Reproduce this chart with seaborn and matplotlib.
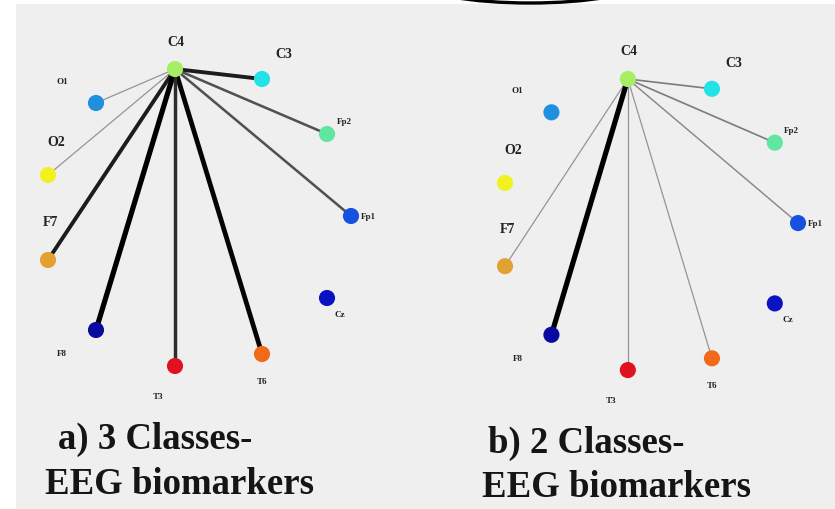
import matplotlib
matplotlib.use("Agg")
import matplotlib.pyplot as plt
import seaborn as sns
import pandas as pd
from matplotlib.patches import Rectangle, Ellipse

sns.set_theme(style="white")
plt.rcParams["font.family"] = ["Liberation Serif", "DejaVu Serif"]

# electrode layout (y grows downward)
nodes = ["C4", "C3", "O1", "Fp2", "O2", "Fp1", "F7", "Cz", "F8", "T6", "T3"]
node_x = [175, 262, 96, 327, 48, 351, 48, 327, 96, 262, 175]
node_y = [70, 80, 104, 135, 176, 217, 261, 299, 331, 355, 367]
node_colors = ["#a6ef62", "#22e2e6", "#1f8fe0", "#5fe6a0", "#f2f222", "#1652e0",
               "#e2a232", "#0b12c2", "#0a0aa0", "#f06a1a", "#e0121f"]

# link strength from the C4 hub to every other electrode (0 = no link)
hub = "C4"
targets = ["C3", "O1", "Fp2", "O2", "Fp1", "F7", "Cz", "F8", "T6", "T3"]
strength_3cls = [0.7, 0.1, 0.4, 0.1, 0.4, 0.7, 0.0, 1.0, 0.9, 0.6]
strength_2cls = [0.2, 0.0, 0.2, 0.0, 0.15, 0.1, 0.0, 1.0, 0.1, 0.1]

titles = ["a) 3 Classes-\nEEG biomarkers", "b) 2 Classes-\nEEG biomarkers"]

# label placement (pixel offsets from node, y down) and size
label_off = {"C4": (1, -28), "C3": (22, -26), "O1": (-34, -22), "Fp2": (17, -13),
             "O2": (8, -33), "Fp1": (17, 0), "F7": (2, -38), "Cz": (13, 16),
             "F8": (-34, 23), "T6": (0, 27), "T3": (-17, 30)}
big_labels = {"C4", "C3", "O2", "F7"}


def draw_panel(ax, strengths):
    df = pd.DataFrame({"node": nodes, "x": node_x, "y": node_y})
    pos = {n: (x, y) for n, x, y in zip(nodes, node_x, node_y)}
    hx, hy = pos[hub]
    for t, w in zip(targets, strengths):
        if w <= 0:
            continue
        tx, ty = pos[t]
        g = 0.68 * (1 - w) ** 1.5
        ax.plot([hx, tx], [hy, ty], color=(g, g, g), lw=(0.8 + 4.4 * w) * 0.72,
                solid_capstyle="round", zorder=1)
    sns.scatterplot(data=df, x="x", y="y", hue="node",
                    palette=dict(zip(nodes, node_colors)), s=135, linewidth=0,
                    legend=False, ax=ax, zorder=3)
    for n in nodes:
        dx, dy = label_off[n]
        ax.annotate(n, pos[n], xytext=(dx * 0.72, -dy * 0.72), textcoords="offset points",
                    ha="center", va="center", fontweight="bold", color="#222222",
                    fontsize=10 if n in big_labels else 6.5)
    ax.axis("off")


fig = plt.figure(figsize=(8.35, 5.1), dpi=100)

# background in pixel units
bg = fig.add_axes([0, 0, 1, 1])
bg.set_xlim(0, 835)
bg.set_ylim(510, 0)
bg.axis("off")
bg.add_patch(Rectangle((16, 5), 819, 505, facecolor="#efefef", edgecolor="none"))
bg.add_patch(Ellipse((530, -16), 216, 40, facecolor="none", edgecolor="black", lw=2.4))
bg.text(58, 449, "a) 3 Classes-", fontsize=26.5, fontweight="bold", color="#151515", va="baseline")
bg.text(45, 494, "EEG biomarkers", fontsize=26.5, fontweight="bold", color="#151515", va="baseline")
bg.text(488, 453, "b) 2 Classes-", fontsize=26.5, fontweight="bold", color="#151515", va="baseline")
bg.text(482, 497, "EEG biomarkers", fontsize=26.5, fontweight="bold", color="#151515", va="baseline")

# panel a: layout drawn 1:1
ax_a = fig.add_axes([16 / 835, 0, 404 / 835, 505 / 510])
ax_a.set_xlim(16, 420)
ax_a.set_ylim(510, 5)
draw_panel(ax_a, strength_3cls)

# panel b: same layout, slightly narrower and lower
ax_b = fig.add_axes([420 / 835, 0, 415 / 835, 505 / 510])
ax_b.set_xlim((420 - 458.6) / 0.967, (835 - 458.6) / 0.967)
ax_b.set_ylim((510 - 11.4) / 0.98, (5 - 11.4) / 0.98)
draw_panel(ax_b, strength_2cls)

fig.savefig("out.png", dpi=100)
